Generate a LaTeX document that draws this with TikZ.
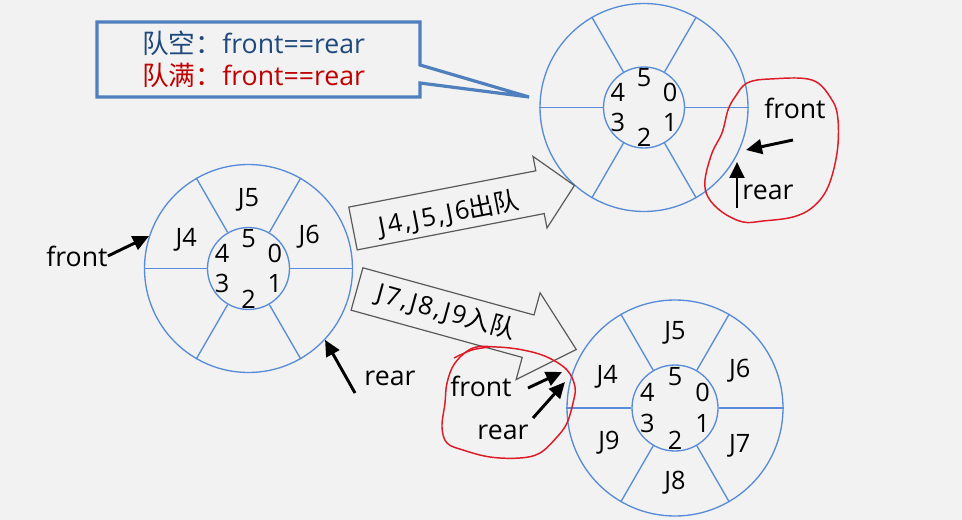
\documentclass[tikz,border=0pt]{standalone}
\usepackage{fontspec}
\setmainfont{Open Sans}
\newfontfamily\cjk{Noto Sans CJK SC}
\usetikzlibrary{calc,arrows.meta}

\definecolor{paper}{RGB}{242,242,242}
\definecolor{ringblue}{RGB}{88,140,216}
\definecolor{boxblue}{RGB}{79,127,189}
\definecolor{txtblue}{RGB}{31,73,125}
\definecolor{txtred}{RGB}{192,0,0}
\definecolor{inkred}{RGB}{222,26,38}
\definecolor{arrgray}{RGB}{90,90,90}

% one circular queue: #1 name, #2 centre, #3 outer size, #4 inner size
\newcommand{\qring}[4]{%
  \node[ring, minimum size=#3] (#1out) at #2 {};
  \node[ring, minimum size=#4] (#1in) at #2 {};
  \foreach \a in {0,60,...,300}
    \draw[ringline] (#1in.\a) -- (#1out.\a);
  % slot numbers round the small circle
  \foreach \a/\n in {30/0,330/1,270/2,210/3,150/4,90/5}
    \node[slot] (#1n\n) at ($(#1in.center)!0.73!(#1in.\a)$) {\n};
}

\begin{document}
\begin{tikzpicture}[
    x=0.75pt, y=-0.75pt,   % one unit = one pixel, y going down
    ring/.style={circle, draw=ringblue, line width=1pt, inner sep=0pt},
    ringline/.style={draw=ringblue, line width=1pt},
    slot/.style={font=\fontsize{19}{19}\selectfont, inner sep=0pt},
    elem/.style={font=\fontsize{19}{19}\selectfont, inner sep=0pt},
    lbl/.style={font=\fontsize{20}{20}\selectfont, inner sep=0pt},
    ptr/.style={line width=2.2pt, -{Triangle[length=12pt,width=11pt]}},
    redink/.style={draw=inkred, line width=1.1pt},
    jobarrow/.style={draw=arrgray, line width=0.9pt, fill=paper, line join=miter},
    jobtxt/.style={font=\fontsize{19}{19}\selectfont\addfontfeatures{LetterSpace=9},
                   inner sep=0pt},
    notebox/.style={draw=boxblue, line width=2.4pt, fill=paper, line join=miter}
]
\path[use as bounding box, fill=paper] (0,0) rectangle (962,520);

% the note with its pointer
\draw[notebox] (97,22) -- (420,22) -- (420,65) -- (529,97) -- (420,83)
    -- (420,97) -- (97,97) -- cycle;
\node[anchor=west, align=left, inner sep=0pt,
      font=\fontsize{20}{24}\selectfont] (cond) at (142,59)
    {\color{txtblue}{\cjk 队空：}front{=}{=}rear\\
     \color{txtred}{\cjk 队满：}front{=}{=}rear};

% the three queues
\qring{L}{(248.5,268.5)}{156pt}{61.5pt}
\qring{E}{(644,107.5)}{156pt}{60.75pt}
\qring{F}{(675,408)}{162pt}{64.5pt}

\foreach \a/\j in {155/J4,90/J5,28/J6}
  \node[elem] (L\j) at ($(Lin.\a)!0.43!(Lout.\a)$) {\j};
\foreach \a/\j in {155/J4,90/J5,30/J6,330/J7,270/J8,208/J9}
  \node[elem] (F\j) at ($(Fin.\a)!0.48!(Fout.\a)$) {\j};

% dequeue and enqueue
\draw[jobarrow] (348.8,207.1) -- (535.8,170.8) -- (533.0,156.4) -- (574.4,185.5)
    -- (547.0,228.0) -- (544.2,213.6) -- (357.2,249.9) -- cycle;
\node[jobtxt, rotate=11] (deq) at (449,214) {J4,J5,J6{\cjk 出队}};
\draw[jobarrow] (362.9,267.8) -- (534.0,315.0) -- (540.1,292.8) -- (576.3,349.5)
    -- (516.1,379.6) -- (522.2,357.4) -- (351.1,310.2) -- cycle;
\node[jobtxt, rotate=-15.4] (enq) at (446,312) {J7,J8,J9{\cjk 入队}};

% front and rear pointers
\node[lbl] (frontL) at (77,256) {front};
\node[lbl] (rearL) at (390,378) {rear};
\coordinate (rearLtail) at (355,393);
\draw[ptr] (frontL.east) -- (Lout.162);
\draw[ptr] (rearLtail) -- (Lout.-43);

\node[lbl] (frontE) at (795,108) {front};
\node[lbl] (rearE) at (768,192) {rear};
\coordinate (frontEtail) at (793,140);
\coordinate (frontEtip) at (746,150);
\coordinate (rearEtail) at (737,208);
\coordinate (rearEtip) at (737,162);
\draw[ptr] (frontEtail) -- (frontEtip);
\draw[ptr] (rearEtail) -- (rearEtip);

\node[lbl] (frontF) at (481,386) {front};
\node[lbl] (rearF) at (503,432) {rear};
\coordinate (frontFtail) at (528,388);
\coordinate (frontFtip) at (562,372);
\coordinate (rearFtail) at (533,418);
\coordinate (rearFtip) at (565,382);
\draw[ptr] (frontFtail) -- (frontFtip);
\draw[ptr] (rearFtail) -- (rearFtip);

% hand drawn rings round the pointers
\draw[redink] plot[smooth cycle, tension=0.6] coordinates {
  (747,83) (770,79) (812,80) (832,100) (838,120) (837,153) (828,187)
  (813,207) (793,217) (763,221) (743,222) (722,212) (708,197) (705,180)
  (712,153) (722,133) (728,110) (735,97)};
\draw[redink] plot[smooth cycle, tension=0.6] coordinates {
  (473,348) (497,347) (523,350) (547,357) (567,370) (575,387) (573,403)
  (567,423) (557,437) (540,453) (520,458) (490,457) (463,450) (447,443)
  (442,427) (445,403) (447,383) (455,363)};
\draw[redink] plot[smooth, tension=0.6] coordinates {
  (454,358) (472,350) (490,347)};
\end{tikzpicture}
\end{document}
